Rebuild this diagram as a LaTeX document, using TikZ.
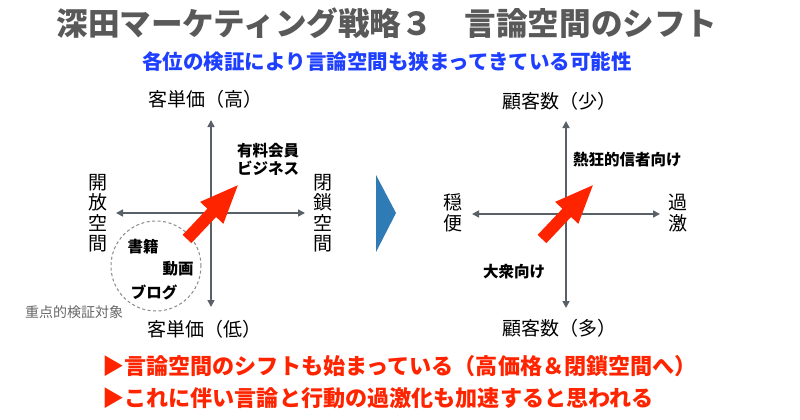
\documentclass[tikz,border=0pt]{standalone}
\usepackage{fontspec}
\setmainfont{Noto Sans CJK JP}
\usetikzlibrary{arrows.meta}
\definecolor{titlegray}{HTML}{595959}
\definecolor{subblue}{HTML}{1F3FFF}
\definecolor{hotred}{HTML}{FF2400}
\definecolor{axisgray}{HTML}{5A6068}
\definecolor{chevblue}{HTML}{2E7BB5}
\definecolor{circgray}{HTML}{8A8A8A}
\definecolor{notegray}{HTML}{666666}
\begin{document}
\begin{tikzpicture}[x=1pt,y=-1pt,
  axis/.style={draw=axisgray, line width=1.6pt,
    {Triangle[length=7pt,width=7pt]}-{Triangle[length=7pt,width=7pt]}},
  lbl/.style={inner sep=0pt, font=\fontsize{19}{20.5}\selectfont, align=center},
  bl/.style={inner sep=0pt, font=\fontsize{15.5}{18}\selectfont\bfseries, align=left},
  redtxt/.style={inner sep=0pt, anchor=west, text=hotred, font=\fontsize{22.1}{24}\selectfont\bfseries},
  bigarrow/.pic={\fill[hotred] (0,6)--(36,6)--(36,16)--(74,0)--(36,-16)--(36,-6)--(0,-6)--cycle;}
]
\useasboundingbox (0,0) rectangle (800,420);

% title & subtitle
\node[inner sep=0pt, text=titlegray, font=\fontsize{31.6}{34}\selectfont\bfseries] (title) at (387,23) {深田マーケティング戦略３　言論空間のシフト};
\node[inner sep=0pt, text=subblue, font=\fontsize{20.5}{23}\selectfont\bfseries] (sub) at (387,62) {各位の検証により言論空間も狭まってきている可能性};

% left diagram
\coordinate (LT) at (211,120);
\coordinate (LB) at (211,307);
\coordinate (LL) at (116,213);
\coordinate (LR) at (305,213);
\draw[axis] (LB) -- (LT);
\draw[axis] (LL) -- (LR);
\node[lbl] (lhigh) at (205,99) {客単価（高）};
\node[lbl] (llow) at (204,329) {客単価（低）};
\node[lbl] (lopen) at (98,213) {開\\放\\空\\間};
\node[lbl] (lclose) at (323,213) {閉\\鎖\\空\\間};
\node[bl, anchor=west] (paid) at (237,159) {有料会員\\ビジネス};
\draw[circgray, line width=1pt, dash pattern=on 3pt off 2.5pt] (156,266) circle (45pt);
\node[bl] (books) at (143,247) {書籍};
\node[bl] (video) at (178,269) {動画};
\node[bl] (blog) at (154,292) {ブログ};
\node[inner sep=0pt, text=notegray, font=\fontsize{14}{16}\selectfont] (note) at (74,312) {重点的検証対象};
\pic[rotate=46.6] at (187,239) {bigarrow};

% chevron
\fill[chevblue] (376,175) -- (396,213) -- (376,252) -- cycle;

% right diagram
\coordinate (RT) at (566,121);
\coordinate (RB) at (566,308);
\coordinate (RL) at (472,214);
\coordinate (RR) at (660,214);
\draw[axis] (RB) -- (RT);
\draw[axis] (RL) -- (RR);
\node[lbl] (rfew) at (559,101) {顧客数（少）};
\node[lbl] (rmany) at (559,328) {顧客数（多）};
\node[lbl] (rcalm) at (453,213) {穏\\便};
\node[lbl] (rext) at (678,213) {過\\激};
\node[bl, anchor=west] (fan) at (573,160) {熱狂的信者向け};
\node[bl, anchor=west] (mass) at (483,272) {大衆向け};
\pic[rotate=46.6] at (542,239) {bigarrow};

% bottom text
\node[redtxt] (line1) at (102,366) {▶言論空間のシフトも始まっている（高価格＆閉鎖空間へ）};
\node[redtxt] (line2) at (102,398) {▶これに伴い言論と行動の過激化も加速すると思われる};
\end{tikzpicture}
\end{document}
